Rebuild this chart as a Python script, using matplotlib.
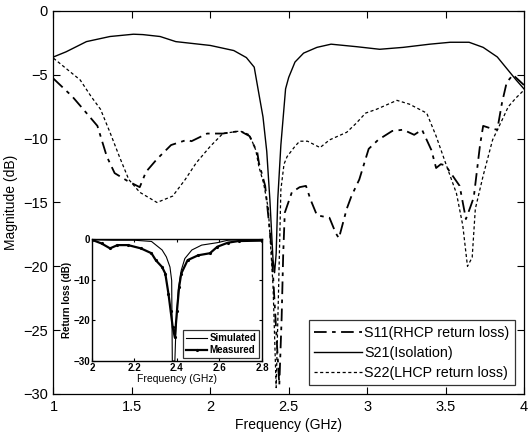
import matplotlib
matplotlib.use("Agg")
import matplotlib.pyplot as plt

plt.rcParams["font.family"] = ["Liberation Sans", "DejaVu Sans"]

# main chart: S parameters (dB) vs frequency (GHz)
s11_freq = [1.0, 1.12, 1.19, 1.28, 1.34, 1.39, 1.47, 1.55, 1.59, 1.66, 1.75, 1.85, 1.88,
            1.98, 2.08, 2.19, 2.25, 2.30, 2.31, 2.35, 2.39, 2.42, 2.44, 2.455, 2.465,
            2.475, 2.52, 2.57, 2.61, 2.64, 2.68, 2.76, 2.80, 2.82, 2.87, 2.90, 2.95,
            2.98, 3.01, 3.07, 3.16, 3.23, 3.30, 3.35, 3.41, 3.44, 3.47, 3.50, 3.59,
            3.63, 3.66, 3.68, 3.72, 3.74, 3.79, 3.83, 3.86, 3.89, 3.93, 4.0]
s11_db = [-5.3, -6.7, -7.7, -9.0, -11.4, -12.7, -13.3, -13.8, -12.6, -11.6, -10.5, -10.1,
          -10.2, -9.6, -9.6, -9.4, -9.8, -11.1, -11.9, -13.7, -18.5, -25.0, -29.3, -24.0,
          -19.0, -15.8, -14.2, -13.8, -13.7, -14.8, -16.0, -16.2, -17.4, -17.8, -15.5,
          -14.5, -13.2, -12.0, -10.8, -10.1, -9.4, -9.3, -9.7, -9.3, -10.9, -12.3, -12.0,
          -12.1, -13.7, -16.3, -15.3, -14.6, -10.5, -9.0, -9.2, -9.3, -7.2, -5.6, -5.0,
          -5.8]

s21_freq = [1.0, 1.08, 1.21, 1.36, 1.51, 1.57, 1.68, 1.78, 2.0, 2.15, 2.23, 2.28, 2.31,
            2.336, 2.36, 2.38, 2.40, 2.41, 2.42, 2.43, 2.45, 2.48, 2.50, 2.54, 2.595,
            2.68, 2.77, 2.935, 3.08, 3.23, 3.40, 3.53, 3.65, 3.74, 3.83, 3.89, 3.95, 4.0]
s21_db = [-3.6, -3.2, -2.4, -2.0, -1.82, -1.85, -2.0, -2.4, -2.7, -3.1, -3.65, -4.4, -6.5,
          -8.3, -11.0, -14.8, -19.5, -20.5, -19.0, -14.8, -10.5, -6.1, -5.2, -4.0, -3.3,
          -2.85, -2.6, -2.8, -3.0, -2.85, -2.6, -2.45, -2.45, -2.85, -3.6, -4.5, -5.4,
          -6.1]

s22_freq = [1.0, 1.17, 1.24, 1.30, 1.36, 1.42, 1.48, 1.55, 1.66, 1.76, 1.84, 1.91, 2.0,
            2.08, 2.19, 2.25, 2.29, 2.31, 2.34, 2.37, 2.40, 2.42, 2.435, 2.45, 2.47, 2.49,
            2.54, 2.57, 2.62, 2.70, 2.76, 2.87, 2.93, 2.99, 3.06, 3.19, 3.27, 3.38, 3.44,
            3.50, 3.57, 3.61, 3.64, 3.67, 3.69, 3.74, 3.80, 3.87, 3.90, 3.95, 4.0]
s22_db = [-3.7, -5.4, -6.7, -7.7, -9.5, -11.4, -13.2, -14.2, -15.0, -14.5, -13.2, -11.9,
          -10.6, -9.6, -9.4, -9.7, -10.9, -12.2, -13.5, -15.5, -21.5, -29.5, -22.0, -14.0,
          -12.0, -11.4, -10.6, -10.2, -10.2, -10.7, -10.1, -9.5, -8.8, -8.0, -7.7, -7.0,
          -7.3, -8.0, -9.8, -11.9, -14.3, -16.8, -20.0, -19.3, -15.5, -12.9, -10.1, -8.3,
          -7.5, -6.8, -6.2]

# inset: return loss, simulated vs measured
sim_freq = [2.0, 2.1, 2.2, 2.28, 2.33, 2.35, 2.367, 2.375, 2.378, 2.39, 2.395, 2.406,
            2.42, 2.437, 2.47, 2.516, 2.59, 2.64, 2.7, 2.8]
sim_db = [-0.2, -0.3, -0.3, -0.6, -2.7, -4.4, -6.9, -10.2, -30.0, -30.0, -22.0, -12.6,
          -7.7, -4.8, -2.7, -1.5, -0.9, -0.3, -0.2, -0.2]

meas_freq = [2.0, 2.045, 2.085, 2.12, 2.17, 2.23, 2.28, 2.30, 2.33, 2.345, 2.36, 2.37,
             2.38, 2.39, 2.40, 2.41, 2.42, 2.45, 2.50, 2.555, 2.59, 2.64, 2.69, 2.8]
meas_db = [-0.2, -1.1, -2.3, -1.5, -1.5, -2.3, -3.5, -5.2, -6.9, -8.5, -13.5, -17.6,
           -21.7, -24.2, -17.6, -11.8, -8.5, -5.2, -4.0, -3.5, -1.9, -0.9, -0.5, -0.4]

fig = plt.figure(figsize=(5.28, 4.34), dpi=100)
ax = fig.add_axes([0.1013, 0.0922, 0.891, 0.8825])

ax.plot(s11_freq, s11_db, color="black", lw=1.3, linestyle=(0, (7, 3, 2, 3)),
        label="S11(RHCP return loss)")
ax.plot(s21_freq, s21_db, color="black", lw=1.0, linestyle="-",
        label="S21(Isolation)")
ax.plot(s22_freq, s22_db, color="black", lw=0.9, linestyle=(0, (2.5, 2)),
        label="S22(LHCP return loss)")

ax.set_xlim(1, 4)
ax.set_ylim(-30, 0)
ax.set_xticks([1, 1.5, 2, 2.5, 3, 3.5, 4])
ax.set_xticklabels(["1", "1.5", "2", "2.5", "3", "3.5", "4"])
ax.set_yticks([0, -5, -10, -15, -20, -25, -30])
ax.tick_params(direction="in", top=True, right=True, length=5, labelsize=10.5, pad=4)
ax.set_xlabel("Frequency (GHz)", fontsize=10, labelpad=3)
ax.set_ylabel("Magnitude (dB)", fontsize=10, labelpad=4)
for sp in ax.spines.values():
    sp.set_linewidth(0.9)

leg = ax.legend(loc="lower right", fontsize=10.3, handlelength=3.3, frameon=True,
                fancybox=False, edgecolor="black", borderpad=0.4, labelspacing=0.42,
                handletextpad=0.2, borderaxespad=0.6)
leg.get_frame().set_linewidth(0.9)

# inset
ins = fig.add_axes([0.1742, 0.1682, 0.322, 0.2811])
ins.plot(sim_freq, sim_db, color="black", lw=0.8, label="Simulated")
ins.plot(meas_freq, meas_db, color="black", lw=1.6, marker=".", markersize=2.5,
         label="Measured")
ins.set_xlim(2, 2.8)
ins.set_ylim(-30, 0)
ins.set_xticks([2, 2.2, 2.4, 2.6, 2.8])
ins.set_xticklabels(["2", "2.2", "2.4", "2.6", "2.8"])
ins.set_yticks([0, -10, -20, -30])
ins.tick_params(direction="in", top=True, right=True, length=2.5, labelsize=7, pad=1.5)
for lab in ins.get_xticklabels() + ins.get_yticklabels():
    lab.set_fontweight("bold")
ins.set_xlabel("Frequency (GHz)", fontsize=7.5, labelpad=1)
ins.set_ylabel("Return loss (dB)", fontsize=7, fontweight="bold", labelpad=1)
for sp in ins.spines.values():
    sp.set_linewidth(1.0)
ileg = ins.legend(loc="lower right", handlelength=2.2, frameon=True,
                  fancybox=False, edgecolor="black", borderpad=0.3, labelspacing=0.2,
                  handletextpad=0.2, borderaxespad=0.3, prop={"weight": "bold", "size": 7})
ileg.get_frame().set_linewidth(0.9)

fig.savefig("out.png", dpi=100)
